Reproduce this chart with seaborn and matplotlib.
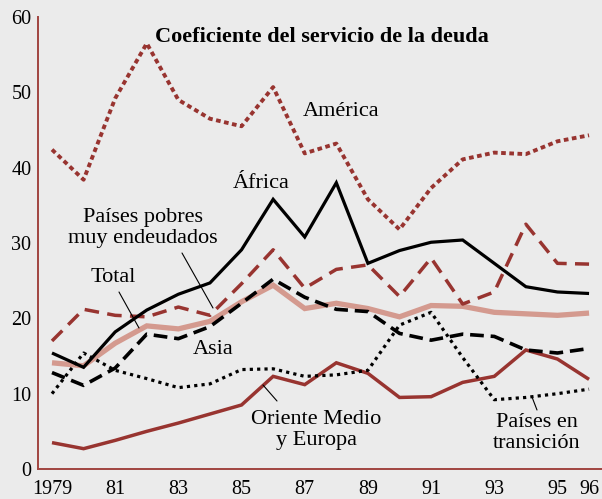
import numpy as np
import pandas as pd
import matplotlib
matplotlib.use("Agg")
import matplotlib.pyplot as plt
import seaborn as sns

years = list(range(1979, 1997))
america = [42.4, 38.4, 49.2, 56.5, 49.0, 46.5, 45.5, 50.7, 41.9, 43.2, 35.8, 31.8, 37.3, 41.1, 42.0, 41.8, 43.5, 44.3]
africa = [15.4, 13.5, 18.2, 21.1, 23.2, 24.7, 29.1, 35.8, 30.8, 38.0, 27.3, 29.0, 30.1, 30.4, 27.3, 24.2, 23.5, 23.3]
ppme = [17.0, 21.2, 20.4, 20.2, 21.5, 20.4, 24.6, 29.1, 24.0, 26.5, 27.1, 22.9, 28.0, 21.9, 23.5, 32.5, 27.3, 27.2]
total = [14.1, 13.7, 16.7, 19.0, 18.6, 19.6, 22.2, 24.4, 21.3, 22.0, 21.3, 20.2, 21.7, 21.6, 20.8, 20.6, 20.4, 20.7]
asia = [12.8, 11.1, 13.4, 17.9, 17.3, 18.9, 22.0, 25.2, 22.8, 21.2, 20.9, 18.0, 17.1, 17.9, 17.6, 15.8, 15.4, 16.0]
transicion = [10.0, 15.4, 13.1, 12.0, 10.8, 11.3, 13.2, 13.3, 12.3, 12.5, 13.1, 19.1, 20.8, 14.8, 9.2, 9.5, 10.0, 10.6]
oriente = [3.5, 2.7, 3.8, 5.0, 6.1, 7.3, 8.5, 12.3, 11.2, 14.1, 12.7, 9.5, 9.6, 11.5, 12.3, 15.8, 14.6, 11.9]

xtick_pos = [1979, 1981, 1983, 1985, 1987, 1989, 1991, 1993, 1995, 1996]
xtick_labels = ["1979", "81", "83", "85", "87", "89", "91", "93", "95", "96"]
yticks = [0, 10, 20, 30, 40, 50, 60]

sns.set_theme(style="white")
plt.rcParams["font.family"] = ["Liberation Serif", "DejaVu Serif"]

RED = "#983430"
AXRED = "#a04440"
PINK = "#d49a8f"
BG = "#ebebeb"

fig = plt.figure(figsize=(6.02, 4.99), dpi=100, facecolor=BG)
ax = fig.add_axes([0.0626, 0.0601, 0.9374, 0.9058])
ax.set_facecolor(BG)

def draw(vals, color, lw, ls, cap="butt", z=2):
    sns.lineplot(x=years, y=vals, ax=ax, color=color, lw=lw, linestyle=ls,
                 dash_capstyle=cap, solid_capstyle="butt", solid_joinstyle="miter",
                 zorder=z)

draw(total, PINK, 3.8, "-", z=1)
draw(oriente, RED, 2.5, "-")
draw(transicion, "black", 2.3, (0, (1.0, 1.3)))
draw(asia, "black", 2.6, (0, (3.8, 1.9)))
draw(ppme, RED, 2.5, (0, (4.2, 2.4)))
draw(africa, "black", 2.3, "-")
draw(america, RED, 2.8, (0, (1.2, 0.9)))

ax.set_xlim(1978.547, 1996.41)
ax.set_ylim(0, 60)

for s in ["top", "right"]:
    ax.spines[s].set_visible(False)
for s in ["left", "bottom"]:
    ax.spines[s].set_color(AXRED)
    ax.spines[s].set_linewidth(1.4)

ax.set_yticks(yticks)
ax.set_yticklabels([str(v) for v in yticks])
ax.tick_params(axis="y", direction="in", length=10, width=1.4, color=AXRED,
               labelsize=14.5, pad=4.5, labelcolor="black")
ax.set_xticks(xtick_pos)
ax.set_xticklabels(xtick_labels)
ax.set_xticks([y + 0.5 for y in range(1979, 1996)], minor=True)
ax.tick_params(axis="x", which="major", length=0, labelsize=14.5, pad=8, labelcolor="black")
ax.tick_params(axis="x", which="minor", direction="in", length=7.2, width=1.4, color=AXRED)
ax.set_xlabel("")
ax.set_ylabel("")

def px(xp, yp):
    # convert reference pixel coords to figure fraction
    return (xp / 602, 1 - yp / 499)

fkw = dict(transform=fig.transFigure, ha="center", va="center", color="black")
LS = 16
LSP = 1.2
fig.text(*px(322, 37), "Coeficiente del servicio de la deuda", fontsize=16, fontweight="bold", **fkw)
fig.text(*px(341, 112), "América", fontsize=LS, **fkw)
fig.text(*px(261, 183), "África", fontsize=LS, **fkw)
fig.text(*px(143, 228), "Países pobres\nmuy endeudados", fontsize=LS, linespacing=LSP, **fkw)
fig.text(*px(113, 278), "Total", fontsize=LS, **fkw)
fig.text(*px(213, 350), "Asia", fontsize=LS, **fkw)
fig.text(*px(316, 430), "Oriente Medio\ny Europa", fontsize=LS, linespacing=LSP, **fkw)
fig.text(*px(537, 433), "Países en\ntransición", fontsize=LS, linespacing=LSP, **fkw)

def leader(p0, p1):
    a = px(*p0); b = px(*p1)
    fig.add_artist(plt.Line2D([a[0], b[0]], [a[1], b[1]], transform=fig.transFigure,
                              color="black", lw=0.8))

leader((182, 253), (213, 308))
leader((119, 292), (139, 328))
leader((263, 385), (277, 401))
leader((532, 397), (537, 410))

fig.savefig("out.png", dpi=100, facecolor=BG)
